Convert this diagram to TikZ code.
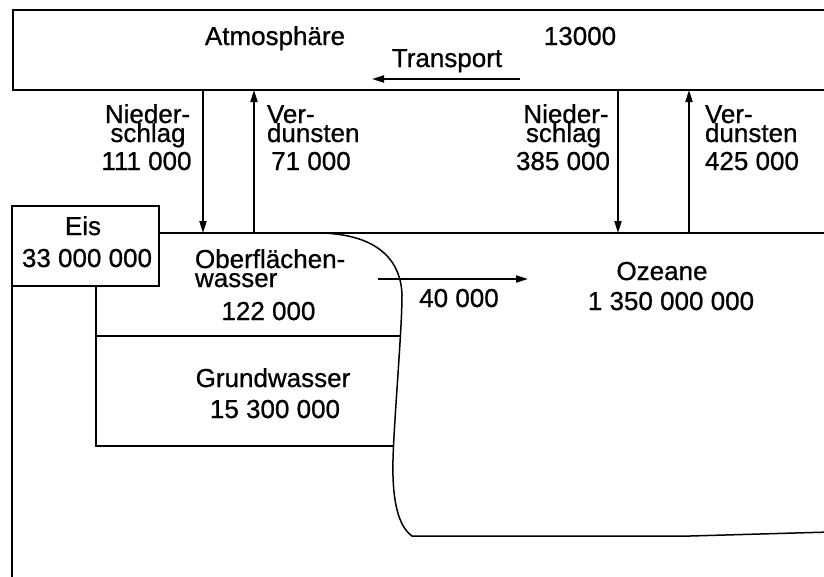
\documentclass[tikz,border=0pt]{standalone}
\usepackage{fontspec}
\setmainfont{Liberation Sans}[BoldFont=Liberation Sans, BoldFeatures={FakeBold=0.8}]
\usetikzlibrary{arrows.meta}
\begin{document}
\begin{tikzpicture}[x=1pt,y=-1pt,
  txt/.style={inner sep=0pt, outer sep=0pt, font=\fontsize{26}{20}\selectfont\bfseries, anchor=base},
  txtl/.style={txt, anchor=base west},
  flow/.style={line width=2pt,-{Triangle[length=12pt,width=7pt]}},
  boxline/.style={line width=2.4pt},
  landline/.style={line width=1.7pt},
  coastline/.style={line width=1.5pt}]
\useasboundingbox (0,0) rectangle (824,576);
\clip (0,0) rectangle (824,576);
% atmosphere box (open to the right)
\node[draw, boxline, inner sep=0pt, outer sep=0pt, minimum width=822pt, minimum height=80pt, anchor=north west] (atm) at (13,10) {};
\node[txt] (atmlabel) at (275,45) {Atmosphäre};
\node[txt] (atmval) at (580,45) {13000};
\node[txt] (transp) at (447,67) {Transport};
\coordinate (tr1) at (520,79);
\coordinate (tr2) at (372,79);
\draw[flow] (tr1) -- (tr2);
% flows
\coordinate (n1a) at (203,90);  \coordinate (n1b) at (203,233);
\coordinate (v1a) at (254,233); \coordinate (v1b) at (254,90);
\coordinate (n2a) at (618,90);  \coordinate (n2b) at (618,233);
\coordinate (v2a) at (689,233); \coordinate (v2b) at (689,90);
\draw[flow] (n1a) -- (n1b);
\draw[flow] (v1a) -- (v1b);
\draw[flow] (n2a) -- (n2b);
\draw[flow] (v2a) -- (v2b);
\node[txt] (n1x) at (147.5,123) {Nieder-};
\node[txt] (n1y) at (148,142) {schlag};
\node[txt] (n1z) at (146.5,170) {111 000};
\node[txtl] (v1x) at (267,123) {Ver-};
\node[txtl] (v1y) at (267,142) {dunsten};
\node[txt] (v1z) at (311,170) {71 000};
\node[txt] (n2x) at (566,123) {Nieder-};
\node[txt] (n2y) at (563.5,142) {schlag};
\node[txt] (n2z) at (563,170) {385 000};
\node[txtl] (v2x) at (705,123) {Ver-};
\node[txtl] (v2y) at (705,142) {dunsten};
\node[txtl] (v2z) at (705,170) {425 000};
% ice box
\node[draw, landline, inner sep=0pt, outer sep=0pt, minimum width=147pt, minimum height=80pt, anchor=north west] (eis) at (12,206) {};
\node[txt] (eisname) at (83,235) {Eis};
\node[txt] (eisval) at (87,267) {33 000 000};
% outer left edge
\coordinate (outerbot) at (12,580);
\draw[line width=2pt] (eis.south west) -- (outerbot);
% ground surface line
\coordinate (surfL) at (159,233);
\coordinate (surfR) at (830,233);
\draw[line width=1.8pt] (surfL) -- (surfR);
% coastline
\coordinate (c0) at (322,233);
\coordinate (c1) at (402,295);
\coordinate (c2) at (393,460);
\coordinate (c3) at (412,536);
\coordinate (c4) at (690,536);
\coordinate (c5) at (830,532);
\draw[coastline] (c0) .. controls (380,235) and (401,262) .. (c1)
  .. controls (402,330) and (394,420) .. (c2)
  .. controls (392,500) and (398,526) .. (c3) -- (c4) -- (c5);
% land compartments
\coordinate (l0) at (96,286);
\coordinate (l1) at (96,336);
\coordinate (l2) at (96,446);
\coordinate (r1) at (401,336);
\coordinate (r2) at (394,446);
\draw[landline] (l0) -- (l2) -- (r2);
\draw[landline] (l1) -- (r1);
\node[txtl] (ofwx) at (195,268) {Oberflächen-};
\node[txtl] (ofwy) at (195,287) {wasser};
\node[txt] (ofwz) at (268.5,320) {122 000};
\node[txt] (gwx) at (273,387) {Grundwasser};
\node[txt] (gwy) at (275,418) {15 300 000};
% runoff
\coordinate (ro1) at (378,279);
\coordinate (ro2) at (528,279);
\draw[flow] (ro1) -- (ro2);
\node[txt] (v40) at (459,307) {40 000};
\node[txt] (ozx) at (662,280) {Ozeane};
\node[txt] (ozy) at (671,310) {1 350 000 000};
\end{tikzpicture}
\end{document}
